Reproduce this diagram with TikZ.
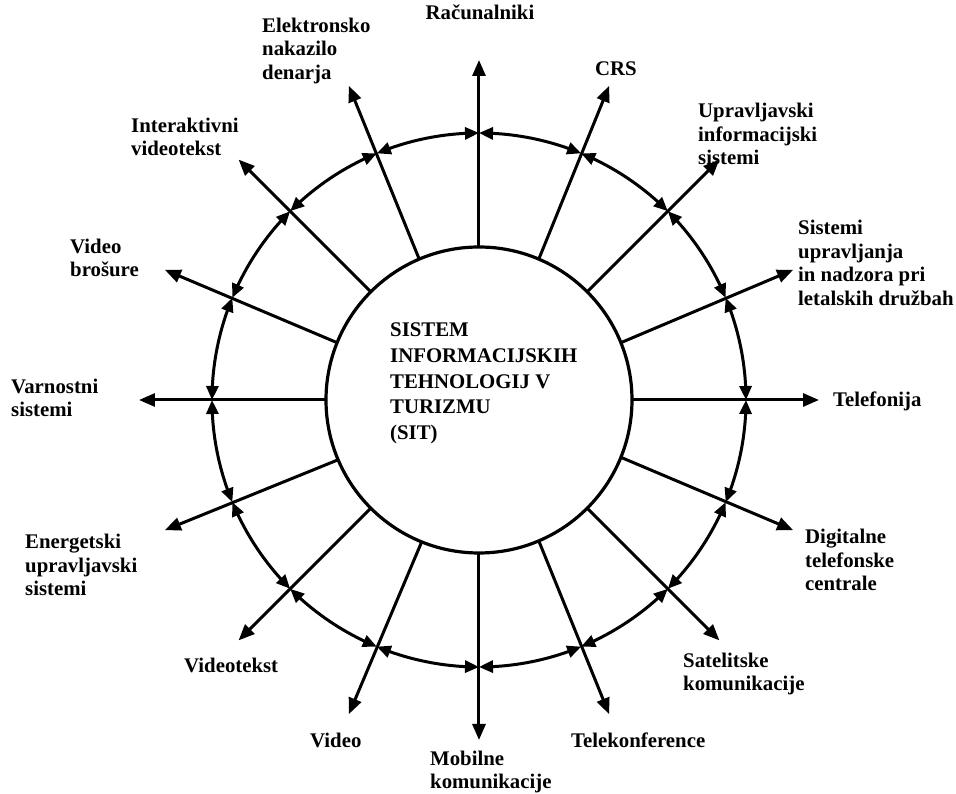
\documentclass[tikz,border=0pt]{standalone}
\usepackage{fontspec}
\setmainfont{Liberation Serif}
\usetikzlibrary{arrows.meta,bending}
\begin{document}
\begin{tikzpicture}[x=1pt,y=1pt,
  lbl/.style={font=\fontsize{20.8}{23.5}\selectfont\bfseries, align=left, inner sep=0pt},
  spoke/.style={line width=3pt, -{Triangle[length=16pt,width=13pt]}},
  ringarc/.style={line width=3pt, {Triangle[length=14pt,width=12pt]}-{Triangle[length=14pt,width=12pt]}},
]
\useasboundingbox (-479,-394) rectangle (477,400);

% central hub
\node[circle, draw, line width=3.2pt, minimum size=306pt, inner sep=0pt, outer sep=0pt] (hub) at (0,0) {};
\node[lbl, font=\fontsize{20.8}{25.6}\selectfont\bfseries, anchor=west] (title) at (-89,16.5)
  {SISTEM\\INFORMACIJSKIH\\TEHNOLOGIJ V\\TURIZMU\\(SIT)};

% spokes and the ring of double-headed arcs
\foreach \i in {0,...,15} {
  \pgfmathsetmacro\ang{90-22.5*\i}
  \coordinate (tip\i) at (\ang:340);
  \coordinate (ring\i) at (\ang:267);
  \draw[spoke] (hub.\ang) -- (tip\i);
  \draw[ringarc] (ring\i) arc[start angle=\ang, delta angle=-22.5, radius=267];
}

% labels
\node[lbl] (l0) at (1,388) {Računalniki};
\node[lbl] (l1) at (137,331) {CRS};
\node[lbl, anchor=west] (l2) at (219,266) {Upravljavski\\informacijski\\sistemi};
\node[lbl, anchor=west] (l3) at (319,137) {Sistemi\\upravljanja\\in nadzora pri\\letalskih družbah};
\node[lbl, anchor=west] (l4) at (354,-1) {Telefonija};
\node[lbl, anchor=west] (l5) at (326,-160) {Digitalne\\telefonske\\centrale};
\node[lbl, anchor=west] (l6) at (204,-274) {Satelitske\\komunikacije};
\node[lbl, anchor=west] (l7) at (92,-340) {Telekonference};
\node[lbl, anchor=west] (l8) at (-49,-372) {Mobilne\\komunikacije};
\node[lbl, anchor=west] (l9) at (-169,-340) {Video};
\node[lbl, anchor=west] (l10) at (-295,-265) {Videotekst};
\node[lbl, anchor=west] (l11) at (-454,-165) {Energetski\\upravljavski\\sistemi};
\node[lbl, anchor=west] (l12) at (-468,2) {Varnostni\\sistemi};
\node[lbl, anchor=west] (l13) at (-409,142) {Video\\brošure};
\node[lbl, anchor=west] (l14) at (-348,263) {Interaktivni\\videotekst};
\node[lbl, anchor=west] (l15) at (-217,349) {Elektronsko\\nakazilo\\denarja};
\end{tikzpicture}
\end{document}
